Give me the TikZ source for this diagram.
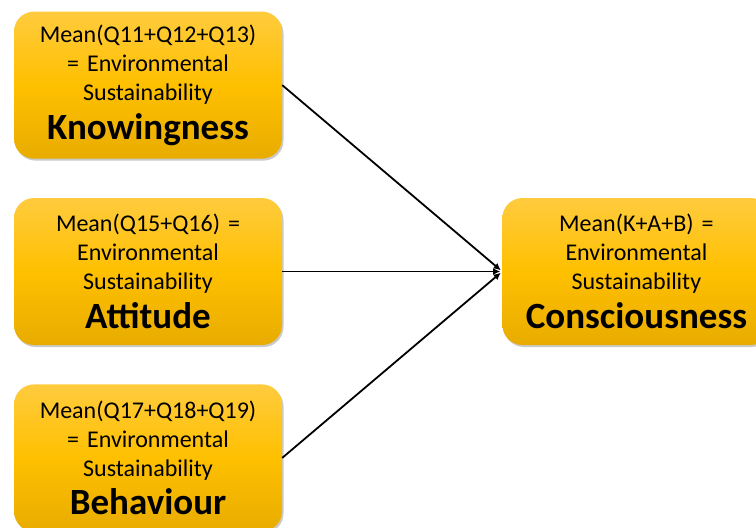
\documentclass[tikz,border=0pt]{standalone}
\usepackage{fontspec}
\setmainfont{Carlito}
\usepackage{tikz}
\usetikzlibrary{positioning,shapes,arrows.meta,shadows}

\definecolor{goldtop}{RGB}{255,203,62}
\definecolor{goldmid}{RGB}{255,192,0}
\definecolor{goldbot}{RGB}{232,172,0}

\begin{document}
\begin{tikzpicture}[
  x=1pt,y=-1pt,
  node distance=39pt and 220pt,
  goldbox/.style={rectangle,rounded corners=20pt,minimum width=268pt,minimum height=147pt,
    top color=goldtop,bottom color=goldbot,middle color=goldmid,
    drop shadow={shadow xshift=1.5pt,shadow yshift=-2pt,opacity=0.35,fill=black!60},
    text width=262pt,align=center,inner sep=0pt,
    font=\fontsize{24}{29}\selectfont},
  link/.style={line width=1.8pt,-{Latex[length=7pt,width=7pt]},shorten >=2pt}
]
\useasboundingbox (0,0) rectangle (756,528);

\node[goldbox] (att) at (148,271.5) {Mean(Q15+Q16) =\\ Environmental\\ Sustainability\\[8pt] {\fontsize{37}{40}\selectfont\bfseries Attitude}};
\node[goldbox, above=of att] (know) {Mean(Q11+Q12+Q13)\\ = Environmental\\ Sustainability\\[8pt] {\fontsize{37}{40}\selectfont\bfseries Knowingness}};
\node[goldbox, below=of att] (beh) {Mean(Q17+Q18+Q19)\\ = Environmental\\ Sustainability\\[8pt] {\fontsize{37}{40}\selectfont\bfseries Behaviour}};
\node[goldbox, right=of att] (cons) {Mean(K+A+B) =\\ Environmental\\ Sustainability\\[8pt] {\fontsize{37}{40}\selectfont\bfseries Consciousness}};

\draw[link] (know.east) -- (cons.west);
\draw[link] (att.east) -- (cons.west);
\draw[link] (beh.east) -- (cons.west);

\end{tikzpicture}
\end{document}
